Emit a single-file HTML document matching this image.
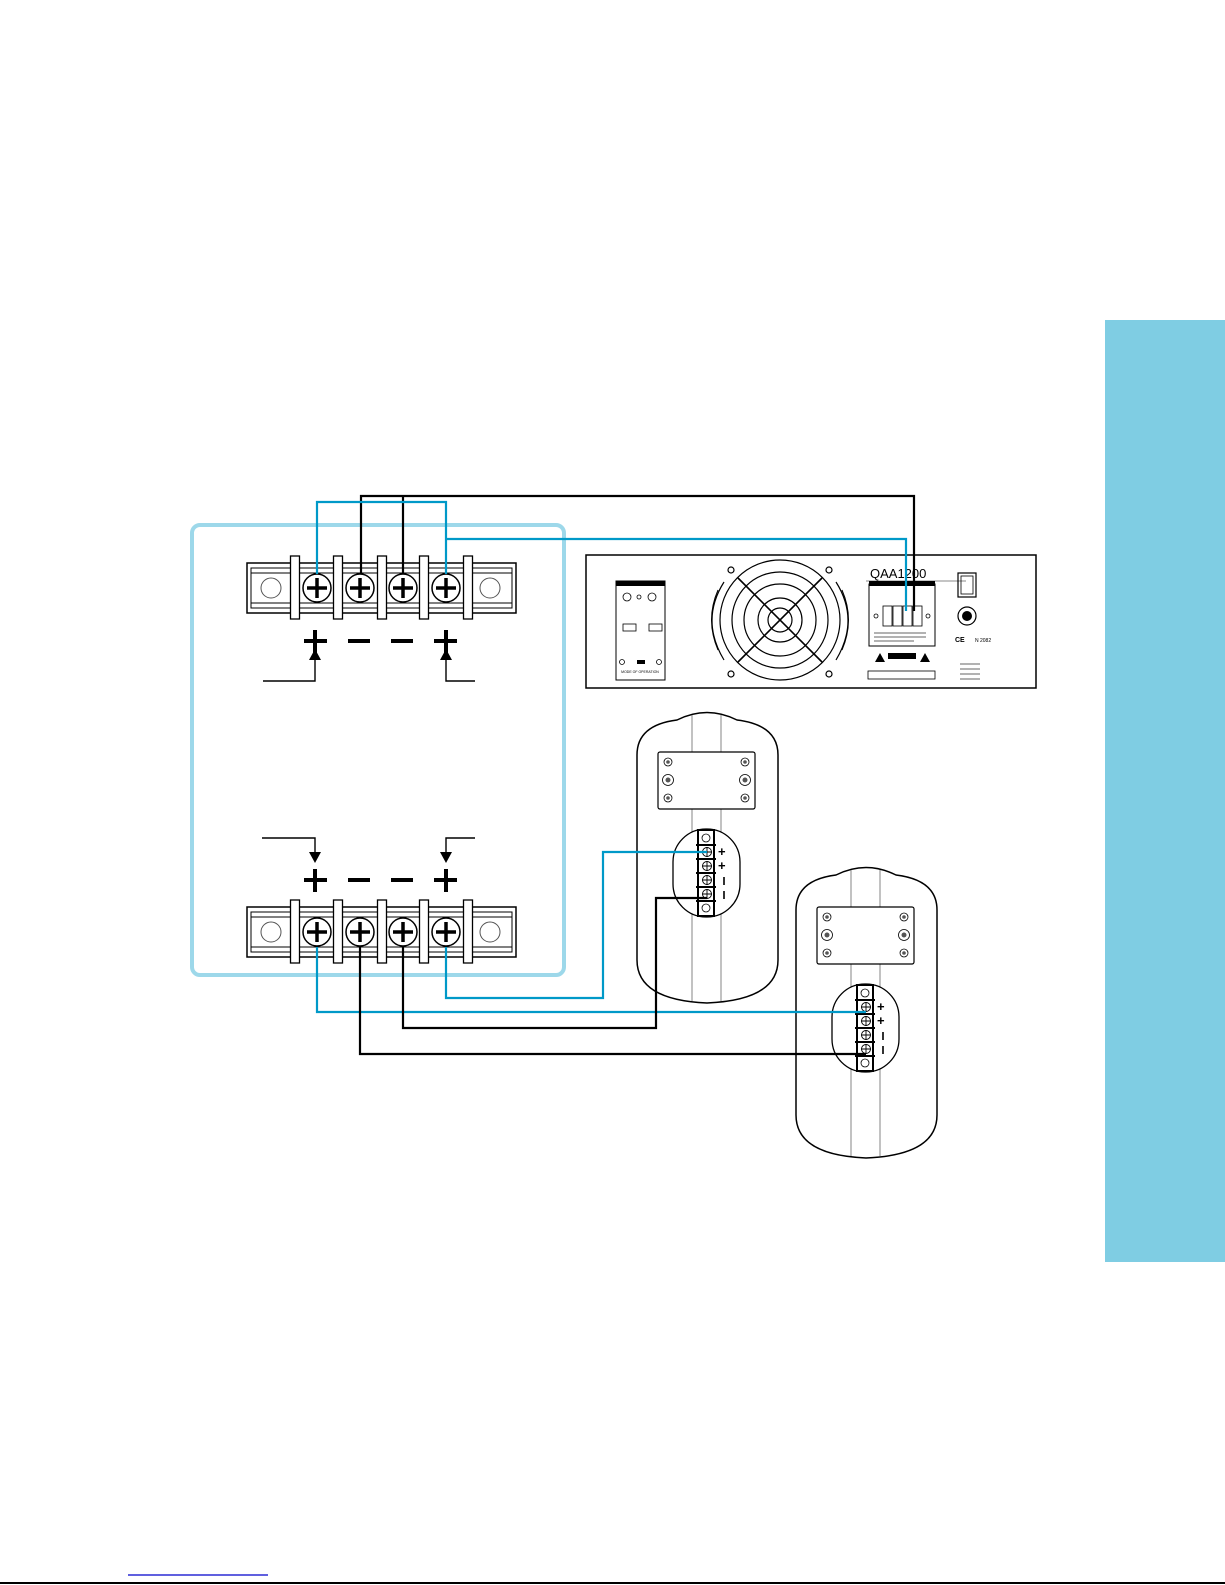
<!DOCTYPE html>
<html><head><meta charset="utf-8"><style>
html,body{margin:0;padding:0;background:#fff;}
svg{display:block;font-family:"Liberation Sans",sans-serif;}
</style></head><body>
<svg width="1225" height="1585" viewBox="0 0 1225 1585" xmlns="http://www.w3.org/2000/svg">
<defs>
<g id="scr"><circle r="14" fill="#fff" stroke="#000" stroke-width="1.5"/><path d="M-10 0H10M0 -10V10" stroke="#000" stroke-width="3.5"/></g>
<g id="sep"><rect x="-4.5" y="0" width="9" height="63" fill="#fff" stroke="#000" stroke-width="1.3"/></g>
<g id="term">
<rect x="0" y="0" width="269" height="50" fill="#fff" stroke="#000" stroke-width="1.5"/>
<rect x="4" y="5" width="261" height="40" fill="none" stroke="#000" stroke-width="1"/>
<line x1="4" y1="10" x2="265" y2="10" stroke="#000" stroke-width="1"/>
<line x1="4" y1="40" x2="265" y2="40" stroke="#000" stroke-width="1"/>
<circle cx="24" cy="25" r="10" fill="none" stroke="#555" stroke-width="1"/>
<circle cx="243" cy="25" r="10" fill="none" stroke="#555" stroke-width="1"/>
<use href="#sep" x="48" y="-7"/><use href="#sep" x="91" y="-7"/><use href="#sep" x="135" y="-7"/><use href="#sep" x="177" y="-7"/><use href="#sep" x="221" y="-7"/>
<use href="#scr" x="70" y="25"/><use href="#scr" x="113" y="25"/><use href="#scr" x="156" y="25"/><use href="#scr" x="199" y="25"/>
</g>
<g id="spk">
<path d="M0 40 Q0 10 40 5 Q70 -10 100 5 Q141 10 141 40 V245 Q141 285 70 288 Q0 285 0 245 Z" fill="#fff" stroke="#000" stroke-width="1.5"/>
<path d="M55 0 V286 M84 0 V286" stroke="#666" stroke-width="0.8"/>
<rect x="21" y="37" width="97" height="57" rx="2" fill="#fff" stroke="#000" stroke-width="1.2"/>
<g fill="#fff" stroke="#000" stroke-width="0.8">
<circle cx="31" cy="47" r="4"/><circle cx="31" cy="65" r="5.5"/><circle cx="31" cy="83" r="4"/>
<circle cx="108" cy="47" r="4"/><circle cx="108" cy="65" r="5.5"/><circle cx="108" cy="83" r="4"/></g>
<g fill="#555"><circle cx="31" cy="47" r="1.8"/><circle cx="31" cy="65" r="2.5"/><circle cx="31" cy="83" r="1.8"/><circle cx="108" cy="47" r="1.8"/><circle cx="108" cy="65" r="2.5"/><circle cx="108" cy="83" r="1.8"/></g>
<rect x="36" y="114" width="67" height="88" rx="33" fill="#fff" stroke="#000" stroke-width="1.3"/>
<rect x="61" y="115" width="16" height="86" fill="#fff" stroke="#000" stroke-width="2"/>
<circle cx="69" cy="123" r="4" fill="none" stroke="#000" stroke-width="0.8"/>
<circle cx="69" cy="193" r="4" fill="none" stroke="#000" stroke-width="0.8"/>
<g stroke="#000" stroke-width="2"><line x1="59" y1="130" x2="79" y2="130"/><line x1="59" y1="144" x2="79" y2="144"/><line x1="59" y1="158" x2="79" y2="158"/><line x1="59" y1="172" x2="79" y2="172"/><line x1="59" y1="186" x2="79" y2="186"/></g>
<g fill="none" stroke="#000" stroke-width="0.9"><circle cx="70" cy="137" r="4.5"/><circle cx="70" cy="151" r="4.5"/><circle cx="70" cy="165" r="4.5"/><circle cx="70" cy="179" r="4.5"/></g>
<path d="M65 137h10M70 132v10M65 151h10M70 146v10M65 165h10M70 160v10M65 179h10M70 174v10" stroke="#000" stroke-width="0.9"/>
<text x="81" y="141" font-size="13" font-weight="bold">+</text>
<text x="81" y="155" font-size="13" font-weight="bold">+</text>
<path d="M87 162v8M87 176v8" stroke="#000" stroke-width="1.6"/>
</g>
</defs>

<rect x="1105" y="320" width="120" height="942" fill="#7fcde3"/>

<rect x="192" y="525" width="372" height="450" rx="8" fill="none" stroke="#9dd8ea" stroke-width="4"/>

<!-- amplifier -->
<rect x="586" y="555" width="450" height="133" fill="#fff" stroke="#000" stroke-width="1.5"/>
<rect x="616" y="581" width="49" height="99" fill="#fff" stroke="#000" stroke-width="1"/>
<rect x="616" y="581" width="49" height="5" fill="#000"/>
<g fill="none" stroke="#000" stroke-width="0.8"><circle cx="627" cy="597" r="4"/><circle cx="652" cy="597" r="4"/><circle cx="639" cy="597" r="2"/><rect x="623" y="624" width="13" height="7"/><rect x="649" y="624" width="13" height="7"/><circle cx="622" cy="662" r="2.5"/><circle cx="659" cy="662" r="2.5"/></g>
<rect x="637" y="660" width="8" height="4" fill="#000"/>
<text x="640" y="673" font-size="3.5" text-anchor="middle">MODE OF OPERATION</text>
<g fill="none" stroke="#000" stroke-width="1.2">
<circle cx="780" cy="620" r="60"/><circle cx="780" cy="620" r="48"/><circle cx="780" cy="620" r="36"/><circle cx="780" cy="620" r="22"/><circle cx="780" cy="620" r="12"/>
<path d="M738 578L822 662M822 578L738 662" stroke-width="1.6"/>
<path d="M718 590Q705 620 718 650M842 590Q855 620 842 650" stroke-width="1"/>
<path d="M724 582Q700 620 724 660M836 582Q860 620 836 660"/>
<circle cx="731" cy="570" r="3"/><circle cx="829" cy="570" r="3"/><circle cx="731" cy="674" r="3"/><circle cx="829" cy="674" r="3"/>
</g>
<text x="870" y="578" font-size="13">QAA1200</text>
<path d="M866 581h100" stroke="#888" stroke-width="1"/>
<rect x="869" y="584" width="66" height="62" fill="#fff" stroke="#000" stroke-width="1"/>
<rect x="869" y="581" width="66" height="5" fill="#000"/>
<g fill="#fff" stroke="#000" stroke-width="0.8"><rect x="883" y="606" width="9" height="20"/><rect x="893" y="606" width="9" height="20"/><rect x="903" y="606" width="9" height="20"/><rect x="913" y="606" width="9" height="20"/><circle cx="876" cy="616" r="2"/><circle cx="928" cy="616" r="2"/></g>
<path d="M874 633h52M874 637h52M874 641h40" stroke="#666" stroke-width="1"/>
<path d="M875 662l5-9 5 9zM920 662l5-9 5 9z" fill="#000"/>
<rect x="888" y="653" width="28" height="6" fill="#000"/>
<rect x="868" y="671" width="67" height="8" fill="none" stroke="#000" stroke-width="0.8"/>
<rect x="958" y="573" width="18" height="24" fill="none" stroke="#000" stroke-width="1.2"/>
<rect x="961" y="576" width="12" height="18" fill="none" stroke="#000" stroke-width="0.8"/>
<circle cx="967" cy="616" r="9" fill="none" stroke="#000" stroke-width="1.2"/><circle cx="967" cy="616" r="5" fill="#000"/>
<text x="955" y="642" font-size="7" font-weight="bold">CE</text><text x="975" y="642" font-size="5">N 2082</text>
<path d="M960 664h20M960 669h20M960 674h20M960 679h20" stroke="#666" stroke-width="1"/>

<!-- terminals -->
<use href="#term" x="247" y="563"/>
<use href="#term" x="247" y="907"/>

<!-- signs -->
<g stroke="#000" stroke-width="4">
<path d="M304 641h23M315 630v23M434 641h23M446 630v23M348 641h22M391 641h22"/>
<path d="M304 880h23M315 869v23M434 880h23M446 869v23M348 880h22M391 880h22"/>
</g>
<!-- arrows -->
<g fill="none" stroke="#000" stroke-width="1.4">
<path d="M263 681H315V659M475 681H446V659"/>
<path d="M262 838H315V854M475 838H446V854"/>
</g>
<g fill="#000"><path d="M309 660l6-11 6 11zM440 660l6-11 6 11zM309 852l6 11 6-11zM440 852l6 11 6-11z"/></g>

<!-- top wires -->
<g fill="none" stroke-width="2.2">
<path d="M361 574V496H914V611M403 574V496" stroke="#000"/>
<path d="M317 574V502H446V574M446 539H906V611" stroke="#0099c8"/>
</g>

<!-- speakers -->
<use href="#spk" x="637" y="715"/>
<use href="#spk" x="796" y="870"/>

<!-- bottom wires -->
<g fill="none" stroke-width="2.2">
<path d="M446 947V998H603V852H707" stroke="#0099c8"/>
<path d="M317 947V1012H866" stroke="#0099c8"/>
<path d="M403 947V1028H656V898H707" stroke="#000"/>
<path d="M360 947V1054H866" stroke="#000"/>
</g>

<line x1="128" y1="1575" x2="268" y2="1575" stroke="#00c" stroke-width="1.2"/>
<line x1="0" y1="1583" x2="1225" y2="1583" stroke="#000" stroke-width="2"/>
</svg>
</body></html>
